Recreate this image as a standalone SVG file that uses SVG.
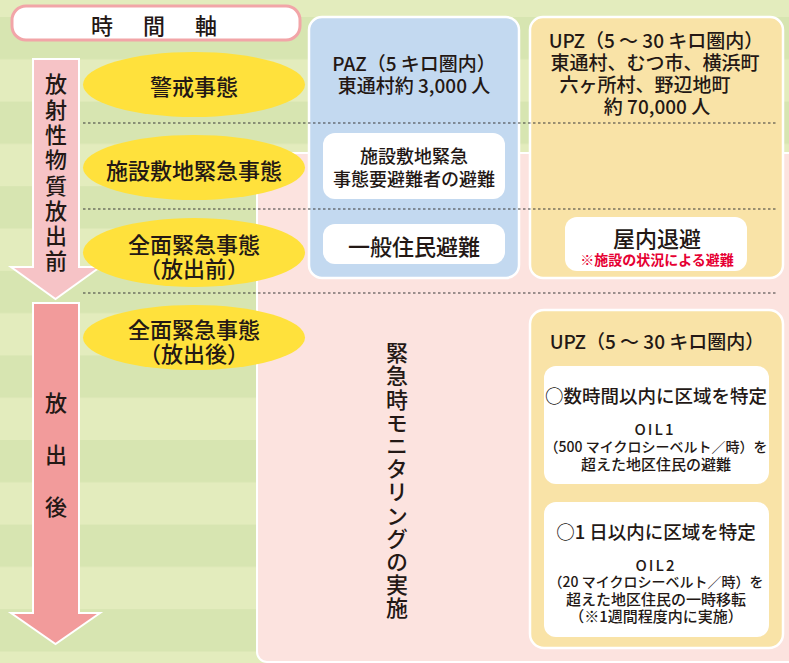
<svg xmlns="http://www.w3.org/2000/svg" width="789" height="663" viewBox="0 0 789 663">
<defs>
<pattern id="stripes" patternUnits="userSpaceOnUse" x="0" y="17" width="789" height="84.6">
<rect x="0" y="0" width="789" height="84.6" fill="#e3ecbd"/>
<rect x="0" y="0" width="789" height="42.3" fill="#d7e5b1"/>
</pattern>
<style>
text{font-family:"Noto Sans CJK JP","Noto Sans",sans-serif;fill:#231815;}
.c{text-anchor:middle;dominant-baseline:central;}
.e{fill:#ffe13c;}
.arrowtxt{writing-mode:vertical-rl;font-size:22px;font-weight:500;}
.h{font-size:19px;font-weight:500;}
.wb{fill:#ffffff;}
.dash{stroke:#3a3a3a;stroke-width:1.2;stroke-dasharray:2.5 2.5;fill:none;}
</style>
</defs>
<rect x="0" y="0" width="789" height="663" fill="url(#stripes)"/>
<rect id="post-area" x="257" y="153" width="545" height="509" rx="10" fill="#fce3df" stroke="#ffffff" stroke-width="2"/>

<g id="title">
<rect x="12" y="6" width="288" height="34" rx="14" fill="#ffffff" stroke="#f2a5a8" stroke-width="3"/>
<text class="c" x="156" y="24" font-size="22" font-weight="500" letter-spacing="4">時　間　軸</text>
</g>

<g id="arrow-pre">
<path d="M33,59 H79 V267 H100 L55.5,299 L11,267 H33 Z" fill="#f6c3c6" stroke="#ffffff" stroke-width="2"/>
<text class="arrowtxt" x="56" y="73" letter-spacing="3.3">放射性物質放出前</text>
</g>

<g id="arrow-post">
<path d="M33,303 H79 V613 H100 L55.5,644 L11,613 H33 Z" fill="#f29b9b" stroke="#ffffff" stroke-width="2"/>
<text class="arrowtxt" x="56" y="392" letter-spacing="30">放出後</text>
</g>

<g id="e-alert">
<ellipse class="e" cx="194" cy="84.5" rx="111" ry="32.5"/>
<text class="c" x="194" y="85" font-size="22" font-weight="500">警戒事態</text>
</g>
<g id="e-site">
<ellipse class="e" cx="194" cy="167.5" rx="111" ry="32.5"/>
<text class="c" x="194" y="169" font-size="22" font-weight="500">施設敷地緊急事態</text>
</g>
<g id="e-general-pre">
<ellipse class="e" cx="194" cy="252.5" rx="111" ry="34.5"/>
<text class="c" x="194" y="243" font-size="22" font-weight="500">全面緊急事態</text>
<text class="c" x="194" y="267" font-size="22" font-weight="500">（放出前）</text>
</g>
<g id="e-general-post">
<ellipse class="e" cx="194" cy="337.5" rx="111" ry="32.5"/>
<text class="c" x="194" y="328" font-size="22" font-weight="500">全面緊急事態</text>
<text class="c" x="194" y="352" font-size="22" font-weight="500">（放出後）</text>
</g>

<g id="paz">
<rect x="309" y="17" width="210" height="261" rx="13" fill="#c3d9f0" stroke="#ffffff" stroke-width="2.5"/>
<text class="c h" x="414" y="62">PAZ（5 キロ圏内）</text>
<text class="c h" x="414" y="84">東通村約 3,000 人</text>
</g>
<g id="paz-site">
<rect class="wb" x="323" y="133" width="182" height="66" rx="12"/>
<text class="c" x="414" y="155" font-size="18" font-weight="500">施設敷地緊急</text>
<text class="c" x="414" y="178" font-size="18" font-weight="500">事態要避難者の避難</text>
</g>
<g id="paz-general">
<rect class="wb" x="323" y="224" width="182" height="40" rx="12"/>
<text class="c" x="414" y="245" font-size="22" font-weight="500">一般住民避難</text>
</g>

<g id="upz-pre">
<rect x="530" y="17" width="253" height="261" rx="13" fill="#f9e3a7" stroke="#ffffff" stroke-width="2.5"/>
<text class="c h" x="656" y="39">UPZ（5 ～ 30 キロ圏内）</text>
<text class="c h" x="655" y="61">東通村、むつ市、横浜町</text>
<text class="c h" x="645" y="83">六ヶ所村、野辺地町</text>
<text class="c h" x="657" y="105">約 70,000 人</text>
</g>
<g id="upz-shelter">
<rect class="wb" x="565" y="217" width="182" height="54" rx="12"/>
<text class="c" x="657" y="237" font-size="22" font-weight="500">屋内退避</text>
<text class="c" x="657" y="259" font-size="14" font-weight="700" style="fill:#e60033">※施設の状況による避難</text>
</g>

<g id="monitoring">
<text x="397" y="481" font-size="22" font-weight="500" letter-spacing="1.2" style="writing-mode:vertical-rl;text-anchor:middle;">緊急時モニタリングの実施</text>
</g>

<g id="upz-post">
<rect x="530" y="310" width="253" height="338" rx="14" fill="#f9e3a7" stroke="#ffffff" stroke-width="2.5"/>
<text class="c h" x="657" y="340">UPZ（5 ～ 30 キロ圏内）</text>
</g>
<g id="oil1">
<rect class="wb" x="544" y="366" width="225" height="118" rx="12"/>
<text class="c" x="656" y="395" font-size="18.5" font-weight="500">○数時間以内に区域を特定</text>
<text class="c" x="655" y="428" font-size="15" font-weight="500" letter-spacing="2">OIL1</text>
<text class="c" x="656" y="446" font-size="14" font-weight="500">（500 マイクロシーベルト／時）を</text>
<text class="c" x="656" y="463" font-size="15" font-weight="500">超えた地区住民の避難</text>
</g>
<g id="oil2">
<rect class="wb" x="544" y="502" width="225" height="135" rx="12"/>
<text class="c" x="656" y="531" font-size="18.5" font-weight="500">○1 日以内に区域を特定</text>
<text class="c" x="656" y="564" font-size="15" font-weight="500" letter-spacing="2">OIL2</text>
<text class="c" x="656" y="581" font-size="14" font-weight="500">（20 マイクロシーベルト／時）を</text>
<text class="c" x="656" y="598" font-size="15" font-weight="500">超えた地区住民の一時移転</text>
<text class="c" x="656" y="615" font-size="15" font-weight="500">（※1週間程度内に実施）</text>
</g>

<g id="connectors">
<line class="dash" x1="83" y1="123" x2="776" y2="123"/>
<line class="dash" x1="83" y1="209" x2="776" y2="209"/>
<line class="dash" x1="83" y1="293" x2="776" y2="293"/>
</g>
</svg>
